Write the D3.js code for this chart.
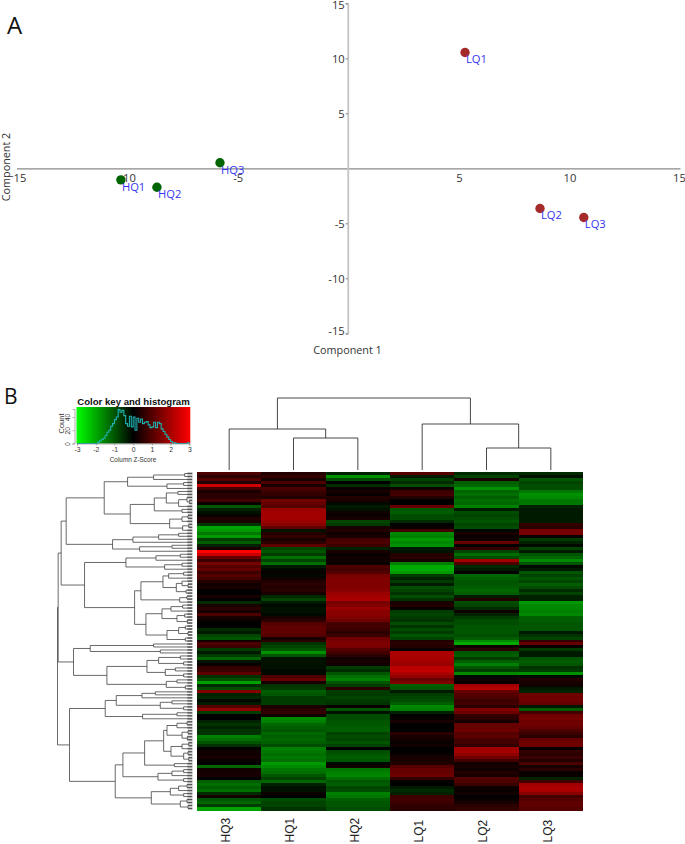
<!DOCTYPE html>
<html><head><meta charset="utf-8">
<script src="https://cdn.jsdelivr.net/npm/d3@7"></script>
<style>html,body{margin:0;padding:0;background:#fff}svg{display:block}</style>
</head><body><div id="c"></div>
<script>
// ---- Panel A data
const sampleNames=["HQ1","HQ2","HQ3","LQ1","LQ2","LQ3"];
const component1=[-10.28,-8.65,-5.8,5.28,8.67,10.65];
const component2=[-1.05,-1.72,0.5,10.53,-3.65,-4.47];
const xTickValues=[-15,-10,-5,5,10,15];
const xTickLabels=["15","-10","-5","5","10","15"];
const yTickValues=[15,10,5,-5,-10,-15];
// ---- Panel B data
const columns=["HQ3","HQ1","HQ2","LQ1","LQ2","LQ3"];
const hq3=[.9,.5,1,.4,2.4,.8,.3,.5,.5,.8,
.1,-1,-.4,-.2,.1,.4,.3,-.6,-1.9,-1.8,
-1.4,-1.8,-.7,-1.1,-.4,.3,3,2.4,1.2,.7,
1.4,1,1.2,.7,1,.8,.4,.2,.3,0,
0,.3,0,-.5,.3,.5,.3,.9,.3,.1,
0,0,-.5,-.3,-.8,-1,.2,.9,.7,-.7,
-.3,-.7,-1.2,-.2,.1,.6,.7,1.1,-.6,-.9,
-1.9,-.5,-.9,1.5,-.4,-.5,-.1,-.3,1,1.7,
-.7,0,0,-.4,-.6,-.4,-.6,-.6,-1.5,-1.3,
-1,-.6,0,.2,.2,.3,.1,0,-1.2,.2,
.3,.3,0,-1.1,-1.3,-1.1,-1.3,-.5,.2,-1,
-1.2,-.7,-1.9];
const hq1=[.4,.6,.3,.9,.3,.9,.7,.6,.4,1.3,
1.2,1,1.8,1.9,1.9,1.9,1.8,1.6,1.1,-.2,
.4,.6,.3,.5,1.1,-.8,-1,-.7,-1.3,-.8,
-1.3,-.3,-.1,.1,-.1,.2,.4,.5,.4,.5,
.3,-.5,-.8,-.3,-.1,-.2,-.2,-.1,.3,.5,
1,1.1,1.1,1.1,1,.3,.5,-.6,-.8,-1,
-1.7,-1,-.2,-.2,-.2,-.2,-.1,-.1,.9,1.2,
.3,-.6,-.7,-1.1,-1,-.7,-.7,-.7,.3,.5,
.6,.2,-1.6,-1.5,-1.2,-1.1,-1,-1.2,-1.1,-1.2,
-1.1,-.9,-1.5,-1.4,-1.3,-1.4,-1.3,-1.8,-1.6,-1.4,
-1.3,-1,-.8,-1.2,-.4,-.2,-.2,.1,0,-.9,
-.8,-.8,-.6];
const hq2=[-.4,-1.7,-.9,0,-.5,.1,.3,.1,.4,.3,
-.1,-.3,-.2,.2,.1,.3,-.8,-.7,.3,.4,
.2,.3,.8,.9,.7,-.4,.3,.1,.2,.2,
.1,.9,.8,1,1.4,1.5,1.5,1.5,1.5,1.6,
1.8,1.9,2,1.4,1.5,1.8,1.6,1.6,1.5,1.3,
.8,.8,.7,.5,.7,1.3,1.4,1.5,1.4,1,
.8,.5,.2,.3,.2,-.7,-.5,-1,-1.3,-1.5,
-1,-.7,.5,-.7,-.7,-.8,-.7,-.6,.1,-1,
-.2,-.9,-.9,-1,-1,-1.1,-1.1,-.8,-.9,-.8,
-1,-.8,0,-.9,-1,-1.1,-1,-.1,.2,-1.4,
-1.5,-1.6,-1.3,-1,-1.1,-.8,-.9,-1.5,-1.4,-1.1,
-1,-1,-.9];
const lq1=[1,-.3,-.8,-.5,-.9,.2,.7,.8,.4,0,
0,1.2,-1,-1.1,-.9,-.9,-.5,0,.1,.8,
-1.6,-1.5,-1.8,-1.6,-1.7,-.3,-.2,.4,.5,.3,
-1.5,-2,-2,-1.8,-.7,-.4,-.7,-.3,-.9,-.8,
-.6,-.9,-.6,.3,.4,.1,-.7,-.8,-.7,-.6,
-.9,-.6,-.9,-.7,-1,-.8,.4,.5,.4,.1,
2,2,2,1.9,1.8,2.2,2.3,2,1.7,1.2,
1.5,-1.1,-1,-.3,-.7,-.8,-.9,-1.1,-1.6,-1.5,
-.4,0,.1,.3,0,0,0,.5,.3,.2,
.1,.2,0,0,.1,.3,.3,.4,1,1.2,
1.2,1.3,.6,0,0,-.3,-.5,-.4,.7,.8,
.7,.6,.5];
const lq2=[-.5,-.8,.3,-1.1,-1.2,-1.7,-1.2,-1.3,-1.1,-1.3,
-1.2,-1.5,-.3,-.9,-.8,-.9,-1,-.8,-.9,-.1,
.3,.1,.2,1.2,0,.6,-.8,-1.3,-.9,1.9,
.9,-.5,-.3,0,-1.2,-1.1,-1,-1,-1.1,-1.2,
-1.1,-.3,.4,-.9,-.8,-.5,.2,-.4,-.7,-.9,
-.9,-1,-1,-1,-.9,-1.1,-1.6,-2,.2,.5,
-1,-1.1,-.7,-1.1,-1.5,-1,-.7,-1.6,-.1,.2,
.1,1.9,2.1,1.2,1,.9,.7,.8,.5,1.5,
1.3,.6,.5,.3,1.2,1.2,1.3,1,1.1,.8,
.8,.6,1.9,1.9,1.7,1.3,.8,.2,.3,.2,
.4,.3,1,.9,.7,.2,.1,.2,0,.1,
.3,.5,.6];
const lq3=[-.5,-.2,-1,-.8,-.9,-.9,-1.4,-1.7,-1.6,-1.4,
-1.4,-.4,-.3,-.3,-.3,-.3,-.3,.6,.5,1.4,
1.4,.1,-.7,-.4,-.1,-.8,-.3,-1,-1.2,-1.6,
-1,-.1,-.3,-1,-.8,-1,-.8,-1.1,-.9,-.5,
-.8,-.4,-.4,-1.8,-1.6,-1.6,-1.5,-1.6,-1.1,-1.1,
-1,-1,-1,-.3,-.6,-.8,.6,1.2,.1,-.7,
-.3,-.3,-1,-1.1,-1,-.6,-.7,-1.7,-.1,.4,
.3,.2,-.3,-.4,1.3,1.3,1.3,1.2,-.3,-1.1,
.8,1.3,1.4,1.3,1.3,1.2,.9,.7,.5,1.2,
1.3,1.3,.1,.6,.5,.7,.4,.9,.3,.5,
.1,.1,-.4,.8,1.9,2,2,1.6,.8,1,
1.1,1.1,1];
const heatColumns=[hq3,hq1,hq2,lq1,lq2,lq3];
// column dendrogram: [height, child, child], leaf = column name
const columnTree=[72,[41,"HQ3",[32,"HQ1","HQ2"]],[46,"LQ1",[22,"LQ2","LQ3"]]];
// row dendrogram: [height, child, child], leaf = 0
const rowTree=[403,
 [401,
  [392,
   [377,
    [263,
     [193,[115,[22,0,0],0],[75,[25,0,0],0]],
     [185,[113,[77,[42,0,0],[40,[15,0,[8,0,0]],0]],[30,0,0]],[67,[30,[12,0,0],0],[28,[10,0,0],0]]]],
    [238,[177,[100,[40,0,0],0],0],[157,[60,0,0],0]]],
   [322,
    [198,[108,[35,0,0],0],[82,[30,0,0],0]],
    [172,
     [153,[87,[70,[25,0,0],0],[47,[30,0,[12,0,0]],[18,0,0]]],[37,[15,0,0],0]],
     [138,[90,[63,[28,0,0],0],[45,[22,0,0],[14,0,0]]],[75,[40,[20,0,0],[12,0,0]],[20,0,0]]]]]],
  [355,
   [305,[115,0,0],[95,0,0]],
   [255,[135,[100,[35,0,0],[25,0,0]],[80,[50,0,0],[25,0,0]]],[77,[45,0,0],[20,0,0]]]]],
 [367,
  [260,
   [227,[150,[110,0,0],0],[95,[60,0,0],[25,0,0]]],
   [148,[45,0,0],0]],
  [230,
   [207,
    [142,[85,[75,[45,[15,0,0],0],[30,[12,0,0],[14,0,0]]],[63,[30,[10,0,0],0],[25,[12,0,0],[10,0,0]]]],[53,0,0]],
    [102,[60,[25,0,0],0],[25,0,0]]],
   [122,[65,[40,[15,0,0],0],[25,0,0]],[35,[15,0,0],[12,0,0]]]]]];
// colour key
const keyTicks=[-3,-2,-1,0,1,2,3];
const countTicks=[0,20,40];
const histBins=[-3,-2.9,-2.8,-2.7,-2.6,-2.5,-2.4,-2.3,-2.2,-2.1,-2,-1.9,-1.8,-1.7,-1.6,-1.5,-1.4,-1.3,-1.2,-1.1,-1,-.9,-.8,-.7,-.6,-.5,-.4,-.3,-.2,-.1,0,.1,.2,.3,.4,.5,.6,.7,.8,.9,1,1.1,1.2,1.3,1.4,1.5,1.6,1.7,1.8,1.9,2,2.1,2.2,2.3,2.4,2.5,2.6,2.7,2.8,2.9,3];
const histCounts=[0,0,0,0,0,0,0,0,0,0,0,2,4,6,8,12,17,20,26,30,36,40,51,47,50,42,30,26,41,25,40,20,38,32,37,30,32,33,28,24,25,32,24,32,30,22,18,14,10,6,3,1,1,0,0,0,0,0,0,1,0];

const W=685,H=844;
const svg=d3.select("#c").append("svg").attr("width",W).attr("height",H).attr("viewBox",[0,0,W,H]);
const plotFont="'Open Sans',sans-serif", rFont="'Liberation Sans',Arial,sans-serif";

// ========== Panel A
const x=d3.scaleLinear().domain([-15,15]).range([16.5,680]);
const y=d3.scaleLinear().domain([-15,15]).range([333.3,3.3]);
const gx=svg.append("g").attr("transform",`translate(0,${y(0)})`)
 .call(d3.axisBottom(x).tickValues(xTickValues).tickSize(0).tickPadding(5).tickFormat((d,i)=>xTickLabels[i]));
gx.select(".domain").attr("stroke","#8a8a8a").attr("stroke-width",1.2);
gx.selectAll("text").attr("font-family",plotFont).attr("font-size",11.2).attr("fill","#333").attr("dy","0.8em")
 .attr("dx",d=>d===-15?3:(d===15?-1:0));
const gy=svg.append("g").attr("transform",`translate(${x(0)-0.5},0)`)
 .call(d3.axisLeft(y).tickValues(yTickValues).tickSize(2).tickPadding(1).tickFormat(String));
gy.select(".domain").attr("stroke","#c4c4c4").attr("stroke-width",1.8);
gy.selectAll("line").attr("stroke","#777");
gy.selectAll("text").attr("font-family",plotFont).attr("font-size",11.2).attr("fill","#333")
 .attr("dy",d=>d===15?"0.5em":(d===-15?"0.1em":"0.38em"));
svg.append("text").attr("x",347.5).attr("y",354).attr("text-anchor","middle").attr("font-family",plotFont).attr("font-size",10.8).attr("fill","#333").text("Component 1");
svg.append("text").attr("transform","translate(10,167) rotate(-90)").attr("text-anchor","middle").attr("font-family",plotFont).attr("font-size",10.8).attr("fill","#333").text("Component 2");
const pts=svg.append("g").selectAll("g").data(sampleNames).join("g")
 .attr("transform",(d,i)=>`translate(${x(component1[i])},${y(component2[i])})`);
pts.append("circle").attr("r",4.7).attr("fill",d=>d[0]==="H"?"#006400":"#a52a2a");
pts.append("text").attr("x",1).attr("y",10.8).attr("font-family",plotFont).attr("font-size",11.2).attr("fill","#3333ee").text(d=>d);
svg.append("text").attr("x",7).attr("y",34).attr("font-family",plotFont).attr("font-size",24).attr("fill","#111").text("A");
svg.append("text").attr("x",4).attr("y",404).attr("font-family",plotFont).attr("font-size",21).attr("fill","#111").text("B");

// ========== Panel B heatmap
const colour=d3.scaleLinear().domain([-3,0,3]).range(["#00ff00","#000000","#ff0000"]).clamp(true);
const colX=d3.scaleBand().domain(columns).range([197,583]);
const rowY=d3.scaleBand().domain(d3.range(hq3.length)).range([472,810]);
const heat=svg.append("g").attr("shape-rendering","crispEdges");
columns.forEach((c,ci)=>{
 heat.append("g").selectAll("rect").data(heatColumns[ci]).join("rect")
  .attr("x",colX(c)).attr("width",colX.bandwidth())
  .attr("y",(d,i)=>rowY(i)).attr("height",rowY.bandwidth()+0.5)
  .attr("fill",d=>colour(d));
});
svg.append("g").selectAll("text").data(columns).join("text")
 .attr("transform",d=>`translate(${colX(d)+colX.bandwidth()/2-3.5},842.5) rotate(-90)`)
 .attr("dy","0.35em").attr("font-family",rFont).attr("font-size",12).attr("fill","#222").text(d=>d);

// dendrograms
function layoutTree(tree,leafPos){
 const root=d3.hierarchy(tree,d=>Array.isArray(d)?d.slice(1):null);
 let k=0;
 root.eachAfter(n=>{
  if(n.children){n.h=n.data[0];n.p=d3.mean(n.children,c=>c.p);}
  else{n.h=0;n.p=leafPos(n.data,k++);}
 });
 return root;
}
// top tree
const topH=d3.scaleLinear().domain([0,72]).range([470,398]);
const topRoot=layoutTree(columnTree,d=>colX(d)+colX.bandwidth()/2);
const topPath=d3.path();
topRoot.each(n=>{if(n.children){
 const a=n.children[0],b=n.children[1];
 topPath.moveTo(a.p,topH(a.h));topPath.lineTo(a.p,topH(n.h));topPath.lineTo(b.p,topH(n.h));topPath.lineTo(b.p,topH(b.h));
}});
svg.append("path").attr("d",topPath.toString()).attr("fill","none").attr("stroke","#333").attr("stroke-width",0.9);
// row tree
const leftH=d3.scaleLinear().domain([0,403]).range([192,57.5]);
const leftRoot=layoutTree(rowTree,(d,i)=>rowY(i)+rowY.bandwidth()/2);
const leftPath=d3.path();
leftRoot.each(n=>{if(n.children){
 const a=n.children[0],b=n.children[1];
 leftPath.moveTo(leftH(a.h),a.p);leftPath.lineTo(leftH(n.h),a.p);leftPath.lineTo(leftH(n.h),b.p);leftPath.lineTo(leftH(b.h),b.p);
}});
// dense grey ends of the row tree
svg.append("g").selectAll("line").data(leftRoot.leaves()).join("line")
 .attr("x1",d=>leftH(Math.min(d.parent.h,14))).attr("x2",leftH(0)+0.5)
 .attr("y1",d=>d.p).attr("y2",d=>d.p).attr("stroke","#8f8f8f").attr("stroke-width",2);
svg.append("path").attr("d",leftPath.toString()).attr("fill","none").attr("stroke","#444").attr("stroke-width",0.8);

// ========== Colour key
const kx=d3.scaleLinear().domain([-3,3]).range([77,189.3]);
const ky=d3.scaleLinear().domain([0,52]).range([443.5,409]);
const defs=svg.append("defs");
const grad=defs.append("linearGradient").attr("id","kg");
keyTicks.forEach(t=>grad.append("stop").attr("offset",(t+3)/6).attr("stop-color",colour(t)));
svg.append("rect").attr("x",kx(-3)-0.5).attr("y",407).attr("width",kx(3)-kx(-3)+1.5).attr("height",ky(0)-407).attr("fill","url(#kg)");
const hline=d3.line().curve(d3.curveStepAfter).x((d,i)=>kx(histBins[i])).y(d=>ky(d));
svg.append("path").attr("d",hline(histCounts)).attr("fill","none").attr("stroke","#1fb0b0").attr("stroke-width",1.1);
const kax=svg.append("g").attr("transform",`translate(0,${ky(0)})`)
 .call(d3.axisBottom(kx).tickValues(keyTicks).tickSize(2).tickPadding(1.5).tickFormat(String));
kax.select(".domain").attr("stroke","#777").attr("stroke-width",0.6);
kax.selectAll("line").attr("stroke","#777").attr("stroke-width",0.6);
kax.selectAll("text").attr("font-family",rFont).attr("font-size",6.8).attr("fill","#333");
const kay=svg.append("g").attr("transform",`translate(74.5,0)`)
 .call(d3.axisLeft(ky).tickValues(countTicks).tickSize(2).tickPadding(1).tickFormat(String));
kay.select(".domain").attr("stroke","#777").attr("stroke-width",0.6);
kay.selectAll("line").attr("stroke","#777").attr("stroke-width",0.6);
kay.selectAll("text").attr("font-family",rFont).attr("font-size",6.8).attr("fill","#333")
 .attr("x",0).attr("y",0).attr("dy",0).attr("text-anchor","middle").attr("transform","translate(-5,0) rotate(-90)");
svg.append("text").attr("x",133.5).attr("y",405).attr("text-anchor","middle").attr("font-family",rFont).attr("font-weight","bold").attr("font-size",9.6).attr("fill","#111").text("Color key and histogram");
svg.append("text").attr("x",133).attr("y",462).attr("text-anchor","middle").attr("font-family",rFont).attr("font-size",6.4).attr("fill","#333").text("Column Z-Score");
svg.append("text").attr("transform","translate(64,423.5) rotate(-90)").attr("text-anchor","middle").attr("font-family",rFont).attr("font-size",7.5).attr("fill","#333").text("Count");
</script></body></html>
